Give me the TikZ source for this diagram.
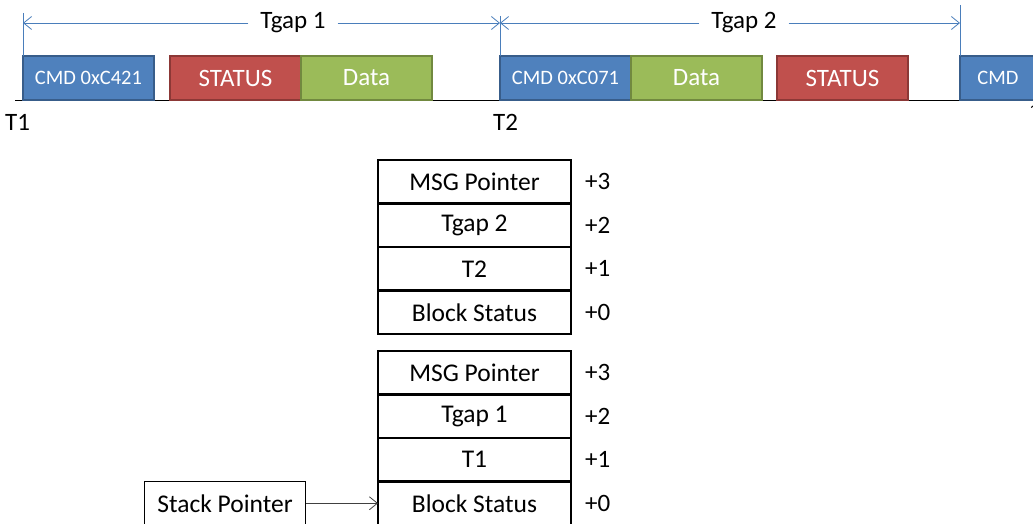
\documentclass[tikz,border=0pt]{standalone}
\usepackage{fontspec}
\setmainfont{Carlito}
\usetikzlibrary{positioning}
\usetikzlibrary{arrows.meta}
\definecolor{cmdblue}{HTML}{4F81BD}
\definecolor{cmdedge}{HTML}{385D8A}
\definecolor{statred}{HTML}{C0504D}
\definecolor{statedge}{HTML}{8C3836}
\definecolor{datagreen}{HTML}{9BBB59}
\definecolor{dataedge}{HTML}{71893F}
\definecolor{gapblue}{HTML}{4A7EBB}
\newcommand{\bigfont}{\fontsize{25}{29}\selectfont}
\newcommand{\rowfont}{\fontsize{25.5}{29}\selectfont}
\tikzset{
  pkt/.style={minimum height=44pt, minimum width=131pt, inner sep=0pt,
    outer sep=0pt, line width=2pt, text=white},
  cmdpkt/.style={pkt, fill=cmdblue, draw=cmdedge, font=\fontsize{20.5}{24}\selectfont},
  statpkt/.style={pkt, fill=statred, draw=statedge, font=\bigfont},
  datapkt/.style={pkt, fill=datagreen, draw=dataedge, font=\bigfont},
  gapline/.style={draw=gapblue, line width=0.8pt},
  gaptip/.style={-{Straight Barb[length=8pt,width=13pt]}},
  gaplabel/.style={inner xsep=12pt, inner ysep=0pt, font=\bigfont},
  tlabel/.style={inner sep=0pt, font=\bigfont},
  slot/.style={draw, line width=2.5pt, minimum width=193pt, minimum height=43.5pt,
    inner sep=0pt, outer sep=0pt, font=\rowfont},
  offs/.style={inner sep=0pt, font=\bigfont},
  spbox/.style={draw, line width=0.8pt, minimum width=161pt, minimum height=43.5pt,
    inner sep=0pt, font=\rowfont},
  ptr/.style={-{Straight Barb[length=8pt,width=13pt]}, line width=0.8pt, black!75}
}

\begin{document}
\begin{tikzpicture}[x=1pt,y=-1pt]
\useasboundingbox (0,0) rectangle (1033,524);

\draw[line width=1pt, -{Straight Barb[length=8pt,width=13pt]}] (15,101) -- (1040,101);

\node[cmdpkt, anchor=north west] (cmdA) at (23,56) {CMD 0xC421};
\node[statpkt, anchor=north west] (statA) at (170,56) {STATUS};
\node[datapkt, right=0pt of statA] (dataA) {Data};
\node[cmdpkt, anchor=north west] (cmdB) at (500,56) {CMD 0xC071};
\node[datapkt, right=0pt of cmdB] (dataB) {Data};
\node[statpkt, anchor=north west] (statB) at (777,56) {STATUS};
\node[cmdpkt, anchor=north west, minimum width=76pt] (cmdC) at (960,56) {CMD};

\coordinate (g1) at (23,23);
\coordinate (g2) at (500,23);
\coordinate (g3) at (960,23);
\draw[gapline] ([yshift=10pt]g1) -- (cmdA.north west);
\draw[gapline] ([yshift=7pt]g2) -- (cmdB.north west);
\draw[gapline] ([yshift=18pt]g3) -- (cmdC.north west);
\node[gaplabel] (tg1) at (293,23) {Tgap 1};
\node[gaplabel] (tg2) at (744,23) {Tgap 2};
\draw[gapline, gaptip] (tg1) -- (g1);
\draw[gapline, gaptip] (tg1) -- (g2);
\draw[gapline, gaptip] (tg2) -- (g2);
\draw[gapline, gaptip] (tg2) -- (g3);

\node[tlabel, anchor=west] (t1) at (5,122) {T1};
\node[tlabel, anchor=west] (t2) at (493,122) {T2};

\node[slot, anchor=north west] (a3) at (378,160) {MSG Pointer};
\node[slot, below=0pt of a3] (a2) {Tgap 2};
\node[slot, below=0pt of a2] (a1) {T2};
\node[slot, below=0pt of a1] (a0) {Block Status};
\node[slot, below=17pt of a0] (b3) {MSG Pointer};
\node[slot, below=0pt of b3] (b2) {Tgap 1};
\node[slot, below=0pt of b2] (b1) {T1};
\node[slot, below=0pt of b1] (b0) {Block Status};

\node[offs, right=14pt of a3] (oa3) {+3};
\node[offs, right=14pt of a2] (oa2) {+2};
\node[offs, right=14pt of a1] (oa1) {+1};
\node[offs, right=14pt of a0] (oa0) {+0};
\node[offs, right=14pt of b3] (ob3) {+3};
\node[offs, right=14pt of b2] (ob2) {+2};
\node[offs, right=14pt of b1] (ob1) {+1};
\node[offs, right=14pt of b0] (ob0) {+0};

\node[spbox, left=72pt of b0] (sp) {Stack Pointer};
\draw[ptr] (sp) -- (b0);
\end{tikzpicture}
\end{document}
